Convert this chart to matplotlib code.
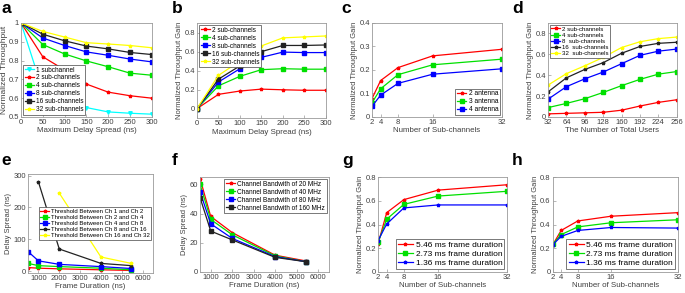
import numpy as np
import matplotlib
matplotlib.use("Agg")
import matplotlib.pyplot as plt

# ---- data ----
delay = [0, 50, 100, 150, 200, 250, 300]
a_1 = [1, 0.64, 0.58, 0.55, 0.527, 0.52, 0.515]
a_2 = [1, 0.82, 0.75, 0.675, 0.632, 0.613, 0.60]
a_4 = [1, 0.885, 0.835, 0.798, 0.767, 0.733, 0.722]
a_8 = [1, 0.92, 0.88, 0.846, 0.828, 0.808, 0.793]
a_16 = [1, 0.94, 0.905, 0.877, 0.862, 0.843, 0.832]
a_32 = [1, 0.955, 0.925, 0.895, 0.888, 0.88, 0.868]

b_2 = [0, 0.15, 0.185, 0.205, 0.198, 0.193, 0.193]
b_4 = [0, 0.24, 0.34, 0.41, 0.42, 0.415, 0.415]
b_8 = [0, 0.28, 0.42, 0.54, 0.595, 0.59, 0.59]
b_16 = [0, 0.31, 0.45, 0.60, 0.665, 0.665, 0.67]
b_32 = [0, 0.35, 0.50, 0.66, 0.745, 0.755, 0.765]

subch = [2, 4, 8, 16, 32]
c_2ant = [0.078, 0.155, 0.21, 0.26, 0.288]
c_3ant = [0.06, 0.12, 0.18, 0.222, 0.246]
c_4ant = [0.045, 0.093, 0.143, 0.182, 0.205]

users = [32, 64, 96, 128, 160, 192, 224, 256]
d_2 = [0.03, 0.035, 0.04, 0.045, 0.065, 0.105, 0.14, 0.165]
d_4 = [0.09, 0.13, 0.175, 0.235, 0.30, 0.36, 0.41, 0.435]
d_8 = [0.17, 0.29, 0.365, 0.43, 0.51, 0.59, 0.63, 0.65]
d_16 = [0.24, 0.375, 0.455, 0.52, 0.61, 0.675, 0.705, 0.715]
d_32 = [0.305, 0.415, 0.49, 0.57, 0.665, 0.72, 0.75, 0.765]

frame = [500, 1000, 2000, 4000, 5460]
e_12 = [12, 10, 8, 5, 3]
e_24 = [25, 18, 15, 10, 5]
e_48 = [62, 33, 22, 15, 9]
frame_816 = [1000, 2000, 4000, 5460]
e_816 = [280, 70, 25, 18]
frame_1632 = [2000, 4000, 5460]
e_1632 = [245, 45, 25]

f_20 = [64, 38, 27, 11.5, 7.5]
f_40 = [60, 36, 25.5, 11, 7]
f_80 = [55, 33, 23, 10.5, 7]
f_160 = [51, 28, 22, 10, 7]

g_546 = [0.24, 0.50, 0.61, 0.69, 0.735]
g_273 = [0.25, 0.445, 0.57, 0.64, 0.68]
g_136 = [0.265, 0.405, 0.54, 0.565, 0.565]
h_546 = [0.23, 0.35, 0.43, 0.47, 0.50]
h_273 = [0.235, 0.315, 0.38, 0.415, 0.44]
h_136 = [0.23, 0.30, 0.35, 0.375, 0.37]

plt.rcParams['font.family'] = ['Liberation Sans', 'DejaVu Sans']
fig = plt.figure(figsize=(6.85, 2.93), dpi=100)

TXT = '#404040'
SP = '#9a9a9a'
FS = 5.5
XFS = 5.7
YFS = 5.4
LW = 0.9
MS = 2.5

def style(ax):
    for s in ax.spines.values():
        s.set_color(SP)
        s.set_linewidth(0.6)
    ax.tick_params(direction='in', length=2, width=0.5, color=SP,
                   labelsize=FS, labelcolor=TXT, pad=1.5)
    ax.xaxis.label.set_color(TXT)
    ax.yaxis.label.set_color(TXT)

def leg(ax, fs=4.7, hl=1.4, **kw):
    l = ax.legend(fontsize=fs, handlelength=hl, borderpad=0.25, labelspacing=0.15,
                  handletextpad=0.35, borderaxespad=0.3, fancybox=False,
                  framealpha=1, **kw)
    l.get_frame().set_edgecolor('#444444')
    l.get_frame().set_linewidth(0.5)
    return l

def letter(x, y, s):
    fig.text(x, y, s, fontsize=12.5, fontweight='bold')

# panel a
ax = fig.add_axes([0.0307, 0.6007, 0.191, 0.321])
ax.plot(delay, a_1, color='cyan', marker='v', ms=MS, lw=LW, label='1 subchannel')
ax.plot(delay, a_2, color='red', marker='*', ms=MS, lw=LW, label='2 sub-channels')
ax.plot(delay, a_4, color='#00e000', marker='s', ms=MS, lw=LW, label='4 sub-channels')
ax.plot(delay, a_8, color='blue', marker='s', ms=MS, lw=LW, label='8 sub-channels')
ax.plot(delay, a_16, color='#222222', marker='s', ms=MS, lw=LW, label='16 sub-channels')
ax.plot(delay, a_32, color='yellow', marker='*', ms=MS, lw=LW, label='32 sub-channels')
ax.set_xlim(0, 300)
ax.set_ylim(0.5, 1.0)
ax.set_xticks(delay)
ax.set_yticks([0.5, 0.6, 0.7, 0.8, 0.9, 1.0])
ax.set_yticklabels(['0.5', '0.6', '0.7', '0.8', '0.9', '1'])
ax.set_xlabel('Maximum Delay Spread (ns)', fontsize=XFS, labelpad=1)
ax.set_ylabel('Normalized Throughput', fontsize=6.0, labelpad=0.5)
style(ax)
leg(ax, loc='lower left', bbox_to_anchor=(0.0, 0.0))
letter(0.002, 0.955, 'a')

# panel b
ax = fig.add_axes([0.2876, 0.597, 0.188, 0.324])
ax.plot(delay, b_2, color='red', marker='*', ms=MS, lw=LW, label='2 sub-channels')
ax.plot(delay, b_4, color='#00e000', marker='s', ms=MS, lw=LW, label='4 sub-channels')
ax.plot(delay, b_8, color='blue', marker='s', ms=MS, lw=LW, label='8 sub-channels')
ax.plot(delay, b_16, color='#222222', marker='s', ms=MS, lw=LW, label='16 sub-channels')
ax.plot(delay, b_32, color='yellow', marker='*', ms=MS, lw=LW, label='32 sub-channels')
ax.set_xlim(0, 300)
ax.set_ylim(-0.1, 0.9)
ax.set_xticks(delay)
ax.set_yticks([0, 0.2, 0.4, 0.6, 0.8])
ax.set_yticklabels(['0', '0.2', '0.4', '0.6', '0.8'])
ax.set_xlabel('Maximum Delay Spread (ns)', fontsize=XFS, labelpad=1)
ax.set_ylabel('Normalized Throughput Gain', fontsize=YFS, labelpad=1)
style(ax)
leg(ax, loc='upper left', bbox_to_anchor=(0.0, 1.0))
letter(0.251, 0.955, 'b')

# panel c
ax = fig.add_axes([0.543, 0.6007, 0.19, 0.321])
ax.plot(subch, c_2ant, color='red', marker='*', ms=MS, lw=LW, label='2 antenna')
ax.plot(subch, c_3ant, color='#00e000', marker='s', ms=MS, lw=LW, label='3 antenna')
ax.plot(subch, c_4ant, color='blue', marker='s', ms=MS, lw=LW, label='4 antenna')
ax.set_xlim(2, 32)
ax.set_ylim(0, 0.4)
ax.set_xticks(subch)
ax.set_yticks([0, 0.1, 0.2, 0.3, 0.4])
ax.set_yticklabels(['0', '0.1', '0.2', '0.3', '0.4'])
ax.set_xlabel('Number of Sub-channels', fontsize=XFS, labelpad=1)
ax.set_ylabel('Normalized Throughput Gain', fontsize=YFS, labelpad=1)
style(ax)
leg(ax, fs=4.8, loc='lower right')
letter(0.499, 0.955, 'c')

# panel d
ax = fig.add_axes([0.80, 0.6007, 0.188, 0.321])
ax.plot(users, d_2, color='red', marker='*', ms=MS, lw=LW, label='2 sub-channels')
ax.plot(users, d_4, color='#00e000', marker='s', ms=MS, lw=LW, label='4 sub-channels')
ax.plot(users, d_8, color='blue', marker='s', ms=MS, lw=LW, label='8  sub-channels')
ax.plot(users, d_16, color='#222222', marker='*', ms=MS, lw=LW, label='16  sub-channels')
ax.plot(users, d_32, color='yellow', marker='*', ms=MS, lw=LW, label='32  sub-channels')
ax.set_xlim(32, 256)
ax.set_ylim(0, 0.9)
ax.set_xticks(users)
ax.set_yticks([0, 0.2, 0.4, 0.6, 0.8])
ax.set_yticklabels(['0', '0.2', '0.4', '0.6', '0.8'])
ax.set_xlabel('The Number of Total Users', fontsize=XFS, labelpad=1)
ax.set_ylabel('Normalized Throughput Gain', fontsize=YFS, labelpad=1)
style(ax)
leg(ax, fs=4.4, loc='upper left')
letter(0.7475, 0.955, 'd')

# panel e
ax = fig.add_axes([0.0409, 0.0683, 0.1825, 0.338])
ax.plot(frame, e_12, color='red', marker='*', ms=MS, lw=LW, label='Threshold Between Ch 1 and Ch 2')
ax.plot(frame, e_24, color='#00e000', marker='s', ms=MS, lw=LW, label='Threshold Between Ch 2 and Ch 4')
ax.plot(frame, e_48, color='blue', marker='s', ms=MS, lw=LW, label='Threshold Between Ch 4 and Ch 8')
ax.plot(frame_816, e_816, color='#222222', marker='*', ms=MS, lw=LW, label='Threshold Between Ch 8 and Ch 16')
ax.plot(frame_1632, e_1632, color='yellow', marker='*', ms=MS, lw=LW, label='Threshold Between Ch 16 and Ch 32')
ax.set_xlim(500, 6500)
ax.set_ylim(-5, 305)
ax.set_xticks([1000, 2000, 3000, 4000, 5000, 6000])
ax.set_yticks([0, 100, 200, 300])
ax.set_xlabel('Frame Duration (ns)', fontsize=XFS, labelpad=1)
ax.set_ylabel('Delay Spread (ns)', fontsize=YFS, labelpad=1)
style(ax)
leg(ax, fs=4.3, loc='center right', bbox_to_anchor=(1.0, 0.5))
letter(0.002, 0.437, 'e')

# panel f
ax = fig.add_axes([0.292, 0.0717, 0.188, 0.324])
ax.plot(frame, f_20, color='red', marker='*', ms=MS, lw=LW, label='Channel Bandwith of 20 MHz')
ax.plot(frame, f_40, color='#00e000', marker='s', ms=MS, lw=LW, label='Channel Bandwith of 40 MHz')
ax.plot(frame, f_80, color='blue', marker='s', ms=MS, lw=LW, label='Channel Bandwith of 80 MHz')
ax.plot(frame, f_160, color='#222222', marker='s', ms=MS, lw=LW, label='Channel Bandwith of 160 MHz')
ax.set_xlim(500, 6500)
ax.set_ylim(0, 65)
ax.set_xticks([1000, 2000, 3000, 4000, 5000, 6000])
ax.set_yticks([0, 20, 40, 60])
ax.set_xlabel('Frame Duration (ns)', fontsize=XFS, labelpad=1)
ax.set_ylabel('Delay Spread (ns)', fontsize=YFS, labelpad=1)
style(ax)
leg(ax, fs=4.7, loc='upper right')
letter(0.251, 0.437, 'f')

# panels g, h
for pos, ys, lab, lx in [([0.552, 0.0717, 0.188, 0.324], (g_546, g_273, g_136), 'g', 0.5),
                         ([0.807, 0.0717, 0.1825, 0.324], (h_546, h_273, h_136), 'h', 0.7475)]:
    ax = fig.add_axes(pos)
    ax.plot(subch, ys[0], color='red', marker='*', ms=MS, lw=LW, label='5.46 ms frame duration')
    ax.plot(subch, ys[1], color='#00e000', marker='s', ms=MS, lw=LW, label='2.73 ms frame duration')
    ax.plot(subch, ys[2], color='blue', marker='*', ms=MS, lw=LW, label='1.36 ms frame duration')
    ax.set_xlim(2, 32)
    ax.set_ylim(0, 0.8)
    ax.set_xticks(subch)
    ax.set_yticks([0, 0.2, 0.4, 0.6, 0.8])
    ax.set_yticklabels(['0', '0.2', '0.4', '0.6', '0.8'])
    ax.set_xlabel('Number of Sub-channels', fontsize=XFS, labelpad=1)
    ax.set_ylabel('Normalized Throughput Gain', fontsize=YFS, labelpad=1)
    style(ax)
    leg(ax, fs=6, hl=1.8, loc='lower right')
    letter(lx, 0.437, lab)

fig.savefig('out.png', dpi=100)
